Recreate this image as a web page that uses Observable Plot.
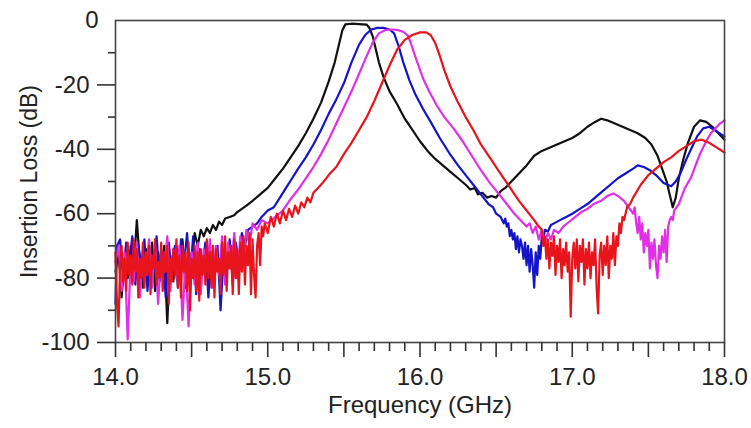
<!DOCTYPE html>
<html><head><meta charset="utf-8">
<script src="https://cdn.jsdelivr.net/npm/d3@7"></script>
<script src="https://cdn.jsdelivr.net/npm/@observablehq/plot@0.6"></script>
<style>html,body{margin:0;padding:0;background:#fff;}#chart{width:751px;height:428px;}</style>
</head><body><div id="chart"></div>
<script>
// Tick values and labels
const xLabelTicks = [14, 15, 16, 17, 18];
const xMajorTicks = [14, 14.5, 15, 15.5, 16, 16.5, 17, 17.5, 18];
const xMinorTicks = [14.1,14.2,14.3,14.4,14.6,14.7,14.8,14.9,15.1,15.2,15.3,15.4,15.6,15.7,15.8,15.9,16.1,16.2,16.3,16.4,16.6,16.7,16.8,16.9,17.1,17.2,17.3,17.4,17.6,17.7,17.8,17.9];
const yMajorTicks = [-20, -40, -60, -80, -100];
const yTopTick = [0];
const yMinorTicks = [-10, -30, -50, -70, -90];
const xTitle = "Frequency (GHz)";
const yTitle = "Insertion Loss (dB)";

// Series: [frequency GHz, insertion loss dB]
const black = [[14.00,-78],[14.02,-72],[14.04,-86],[14.06,-74],[14.08,-80],[14.10,-70],[14.12,-77],[14.14,-62],[14.16,-75],[14.18,-83],[14.20,-71],[14.22,-79],[14.24,-69],[14.26,-84],[14.28,-72],[14.30,-78],[14.32,-70],[14.34,-94],[14.36,-73],[14.38,-81],[14.40,-70],[14.42,-77],[14.44,-68],[14.46,-83],[14.48,-71],[14.50,-76],[14.52,-66],[14.54,-70],[14.56,-65],[14.58,-67],[14.60,-64.5],[14.62,-66],[14.64,-63.5],[14.66,-65],[14.68,-62.5],[14.70,-63.5],[14.72,-61.5],[14.75,-61],[14.78,-60.5],[14.80,-59.5],[14.83,-58.5],[14.86,-57.5],[14.90,-56],[14.95,-54],[15.00,-52],[15.05,-49],[15.10,-46],[15.15,-42.5],[15.20,-39],[15.25,-35],[15.30,-30.5],[15.35,-25.5],[15.40,-19],[15.44,-13],[15.47,-7],[15.49,-3],[15.51,-1.2],[15.55,-1.0],[15.60,-1.1],[15.65,-1.3],[15.67,-2.5],[15.69,-5],[15.71,-9],[15.73,-13],[15.76,-17.5],[15.80,-22],[15.85,-26],[15.90,-30.5],[15.95,-34],[16.00,-37.5],[16.05,-40.5],[16.10,-43],[16.15,-45],[16.20,-47],[16.25,-49],[16.30,-51],[16.33,-52.5],[16.36,-52],[16.38,-54],[16.41,-53.5],[16.44,-55],[16.47,-54.5],[16.50,-55],[16.53,-53],[16.56,-52],[16.60,-50],[16.65,-47.5],[16.70,-45],[16.75,-42],[16.80,-40.5],[16.85,-39.5],[16.90,-38.5],[16.95,-37.5],[17.00,-36.5],[17.05,-35],[17.10,-33],[17.15,-31.5],[17.19,-30.5],[17.23,-31],[17.28,-32],[17.33,-33],[17.38,-34],[17.43,-35],[17.48,-36.5],[17.52,-38.5],[17.56,-42],[17.59,-46],[17.62,-50],[17.64,-54],[17.66,-58],[17.68,-55],[17.70,-49],[17.73,-43],[17.76,-38],[17.80,-33],[17.84,-31],[17.88,-31.5],[17.92,-33],[17.96,-35],[18.00,-37]];

const blue = [[14.00,-88],[14.01,-70],[14.03,-68],[14.05,-80],[14.07,-69],[14.09,-77],[14.11,-67],[14.13,-82],[14.15,-70],[14.17,-76],[14.19,-68],[14.21,-84],[14.23,-71],[14.25,-78],[14.27,-67],[14.29,-81],[14.31,-72],[14.33,-86],[14.35,-69],[14.37,-79],[14.39,-70],[14.41,-83],[14.43,-68],[14.45,-76],[14.47,-66],[14.49,-80],[14.51,-67],[14.53,-85],[14.55,-71],[14.57,-78],[14.59,-69],[14.61,-86],[14.63,-72],[14.65,-80],[14.67,-70],[14.69,-90],[14.71,-73],[14.73,-79],[14.75,-68],[14.77,-82],[14.79,-69],[14.81,-75],[14.83,-66],[14.85,-70],[14.87,-65],[14.90,-64],[14.93,-63],[14.96,-61],[15.00,-59],[15.04,-58],[15.08,-55],[15.12,-52],[15.16,-49],[15.20,-46],[15.25,-42.5],[15.30,-38.5],[15.35,-34],[15.40,-29],[15.45,-24.5],[15.50,-19.5],[15.55,-13],[15.60,-7.5],[15.64,-4.5],[15.68,-2.8],[15.72,-2.3],[15.76,-2.3],[15.80,-2.8],[15.83,-4],[15.86,-8],[15.89,-13],[15.93,-18.5],[15.97,-23],[16.02,-27.5],[16.07,-31.5],[16.13,-36.5],[16.19,-41],[16.25,-45],[16.30,-48],[16.35,-51],[16.40,-54],[16.45,-57],[16.48,-58],[16.50,-60],[16.53,-61],[16.55,-63],[16.56,-61.5],[16.57,-64],[16.58,-63],[16.59,-67],[16.60,-65],[16.61,-68],[16.62,-66],[16.63,-71],[16.64,-67],[16.65,-72],[16.66,-68],[16.67,-70],[16.68,-74],[16.69,-69],[16.70,-76],[16.71,-70],[16.72,-78],[16.73,-71],[16.74,-76],[16.75,-83],[16.76,-72],[16.77,-79],[16.78,-70],[16.79,-74],[16.80,-67],[16.81,-68],[16.82,-65],[16.84,-65.5],[16.86,-63.5],[16.88,-63],[16.92,-62],[16.96,-61],[17.00,-60],[17.05,-58.5],[17.10,-57],[17.15,-55],[17.20,-53],[17.25,-51],[17.30,-49],[17.35,-47.5],[17.40,-46],[17.43,-45],[17.47,-45.5],[17.51,-46.5],[17.55,-48],[17.60,-50.5],[17.65,-51.5],[17.68,-50],[17.71,-47.5],[17.75,-43],[17.78,-40],[17.82,-36],[17.86,-33.5],[17.90,-33],[17.95,-34.5],[18.00,-36]];

const magenta = [[14.00,-75],[14.02,-70],[14.04,-84],[14.06,-72],[14.08,-99],[14.10,-74],[14.12,-81],[14.14,-69],[14.16,-86],[14.18,-73],[14.20,-79],[14.22,-68],[14.24,-83],[14.26,-70],[14.28,-88],[14.30,-72],[14.32,-78],[14.34,-67],[14.36,-84],[14.38,-71],[14.40,-80],[14.42,-70],[14.44,-93],[14.46,-74],[14.48,-95],[14.50,-72],[14.52,-82],[14.54,-69],[14.56,-85],[14.58,-71],[14.60,-78],[14.62,-68],[14.64,-83],[14.66,-70],[14.68,-79],[14.70,-67],[14.72,-82],[14.74,-69],[14.76,-77],[14.78,-66],[14.80,-80],[14.82,-67],[14.84,-74],[14.86,-65],[14.88,-70],[14.90,-63],[14.93,-65],[14.96,-62],[15.00,-63],[15.05,-61],[15.10,-59],[15.15,-55.5],[15.20,-52.5],[15.25,-49],[15.30,-45.5],[15.35,-41.5],[15.40,-37],[15.45,-32],[15.50,-27],[15.55,-22],[15.60,-16.5],[15.65,-11],[15.69,-6.8],[15.73,-4],[15.77,-3],[15.81,-2.8],[15.85,-2.9],[15.89,-3.5],[15.92,-4.7],[15.94,-7],[15.96,-10],[15.99,-14],[16.02,-18],[16.06,-22],[16.11,-26.4],[16.16,-30],[16.22,-33.5],[16.28,-37.5],[16.34,-42],[16.40,-46.5],[16.46,-50.5],[16.52,-54],[16.57,-57],[16.62,-60],[16.67,-62.5],[16.70,-64],[16.72,-63],[16.74,-66],[16.76,-64],[16.78,-68],[16.80,-65],[16.82,-69],[16.84,-66],[16.86,-68],[16.88,-65],[16.91,-66],[16.94,-64],[16.98,-62.5],[17.02,-61],[17.06,-59.5],[17.10,-58.5],[17.14,-57],[17.19,-56],[17.23,-54.5],[17.27,-53.7],[17.30,-54.5],[17.34,-56],[17.37,-58],[17.40,-60],[17.41,-58],[17.42,-63],[17.43,-66],[17.44,-61],[17.45,-68],[17.46,-63],[17.47,-72],[17.48,-66],[17.49,-70],[17.50,-65],[17.51,-77],[17.52,-69],[17.53,-74],[17.54,-68],[17.55,-76],[17.56,-80],[17.57,-70],[17.58,-74],[17.59,-67],[17.60,-72],[17.61,-65],[17.62,-75],[17.63,-64],[17.64,-62],[17.65,-61],[17.66,-62],[17.67,-59],[17.70,-57],[17.74,-52],[17.78,-48.8],[17.81,-45],[17.84,-41.3],[17.88,-37.5],[17.91,-35],[17.95,-33],[17.97,-32],[18.00,-31]];

const red = [[14.00,-72],[14.01,-88],[14.02,-95],[14.03,-76],[14.04,-70],[14.05,-81],[14.06,-74],[14.07,-84],[14.08,-69],[14.09,-79],[14.10,-73],[14.11,-82],[14.12,-68],[14.13,-78],[14.14,-71],[14.15,-86],[14.16,-74],[14.17,-80],[14.18,-69],[14.19,-83],[14.20,-72],[14.21,-79],[14.22,-70],[14.23,-85],[14.24,-73],[14.25,-77],[14.26,-68],[14.27,-82],[14.28,-75],[14.29,-80],[14.30,-69],[14.31,-84],[14.32,-72],[14.33,-78],[14.34,-70],[14.35,-88],[14.36,-74],[14.37,-81],[14.38,-71],[14.39,-79],[14.40,-68],[14.41,-83],[14.42,-73],[14.43,-86],[14.44,-70],[14.45,-78],[14.46,-72],[14.47,-84],[14.48,-69],[14.49,-90],[14.50,-74],[14.51,-80],[14.52,-70],[14.53,-84],[14.54,-72],[14.55,-87],[14.56,-71],[14.57,-79],[14.58,-73],[14.59,-82],[14.60,-68],[14.61,-80],[14.62,-72],[14.63,-83],[14.64,-70],[14.65,-86],[14.66,-71],[14.67,-78],[14.68,-74],[14.69,-85],[14.70,-69],[14.71,-79],[14.72,-67],[14.73,-84],[14.74,-72],[14.75,-77],[14.76,-70],[14.77,-85],[14.78,-68],[14.79,-80],[14.80,-71],[14.81,-85],[14.82,-69],[14.83,-78],[14.84,-67],[14.85,-82],[14.86,-70],[14.87,-76],[14.88,-66],[14.89,-85],[14.90,-68],[14.91,-79],[14.92,-86],[14.93,-70],[14.94,-66],[14.95,-76],[14.96,-64],[14.97,-67],[14.98,-63],[15.00,-66],[15.02,-61],[15.04,-64],[15.06,-60],[15.08,-63],[15.10,-59],[15.12,-62],[15.14,-58.5],[15.16,-61],[15.18,-57.5],[15.20,-60],[15.22,-56.5],[15.24,-58],[15.26,-55],[15.28,-56.5],[15.30,-53.5],[15.33,-52],[15.36,-50.5],[15.40,-48],[15.45,-45.5],[15.50,-41.5],[15.55,-38],[15.60,-34],[15.65,-30],[15.70,-25],[15.75,-19.5],[15.80,-14],[15.85,-9],[15.90,-6],[15.95,-4.5],[16.00,-3.7],[16.04,-3.7],[16.07,-4.5],[16.10,-7],[16.13,-11],[16.16,-15.5],[16.20,-20.5],[16.25,-25.5],[16.30,-30],[16.35,-34],[16.40,-38.5],[16.45,-42],[16.50,-45.5],[16.55,-49],[16.60,-52.5],[16.65,-56],[16.70,-59],[16.75,-62],[16.78,-64],[16.80,-65],[16.81,-70],[16.82,-67],[16.83,-74],[16.84,-68],[16.85,-77],[16.86,-69],[16.87,-73],[16.88,-67],[16.89,-79],[16.90,-70],[16.91,-75],[16.92,-68],[16.93,-80],[16.94,-71],[16.95,-76],[16.96,-69],[16.97,-78],[16.98,-72],[16.99,-92],[17.00,-74],[17.01,-69],[17.02,-77],[17.03,-68],[17.04,-81],[17.05,-70],[17.06,-75],[17.07,-68],[17.08,-82],[17.09,-71],[17.10,-77],[17.11,-69],[17.12,-80],[17.13,-72],[17.14,-76],[17.15,-68],[17.16,-83],[17.17,-91],[17.18,-73],[17.19,-69],[17.20,-79],[17.21,-70],[17.22,-76],[17.23,-67],[17.24,-80],[17.25,-70],[17.26,-74],[17.27,-66],[17.28,-76],[17.29,-67],[17.30,-70],[17.31,-63],[17.32,-66],[17.33,-61],[17.34,-62],[17.36,-58],[17.38,-57],[17.40,-55],[17.45,-51],[17.50,-48],[17.55,-46],[17.60,-44],[17.65,-42.5],[17.70,-40.5],[17.75,-39],[17.80,-37.5],[17.85,-37],[17.90,-38],[17.95,-39.5],[18.00,-41]];

const seriesList = [
  {name: "black", points: black, color: "#111111"},
  {name: "blue", points: blue, color: "#1414c8"},
  {name: "magenta", points: magenta, color: "#e22ee6"},
  {name: "red", points: red, color: "#e8141c"}
];

const font = "'Liberation Sans', Arial, Helvetica, sans-serif";
const axisColor = "#333";

const lineMarks = seriesList.map(s =>
  Plot.line(s.points.map(([f, db]) => ({f, db})), {x: "f", y: "db", stroke: s.color, strokeWidth: 2.2})
);

const chart = Plot.plot({
  width: 751,
  height: 428,
  marginLeft: 115,
  marginRight: 27,
  marginTop: 20,
  marginBottom: 86,
  x: {domain: [14, 18]},
  y: {domain: [-100, 0]},
  style: {fontFamily: font, background: "#fff", color: "#222", overflow: "visible"},
  marks: [
    ...lineMarks,
    Plot.frame({stroke: "#444", strokeWidth: 1.6}),
    Plot.axisY({ticks: yMinorTicks, tickSize: 7, tickFormat: () => "", label: null, stroke: axisColor, strokeWidth: 1.6}),
    Plot.axisY({ticks: yMajorTicks, tickSize: 18, tickPadding: 8, tickFormat: d => String(d), fontSize: 24, label: null, stroke: axisColor, strokeWidth: 1.6}),
    Plot.axisY({ticks: yTopTick, tickSize: 0, tickPadding: 17, tickFormat: d => String(d), fontSize: 24, label: null}),
    Plot.axisX({ticks: xMinorTicks, tickSize: 9, tickFormat: () => "", label: null, stroke: axisColor, strokeWidth: 1.6}),
    Plot.axisX({ticks: xMajorTicks, tickSize: 15, tickFormat: () => "", label: null, stroke: axisColor, strokeWidth: 1.6}),
    Plot.axisX({ticks: xLabelTicks, tickSize: 0, tickPadding: 25, tickFormat: d => d.toFixed(1), fontSize: 24, label: null}),
    Plot.text([xTitle], {text: d => d, frameAnchor: "bottom", dy: 53, lineAnchor: "top", textAnchor: "middle", fontSize: 24, fill: "#222"}),
    Plot.text([yTitle], {text: d => d, frameAnchor: "left", dx: -95, rotate: -90, lineAnchor: "top", textAnchor: "middle", fontSize: 23, fill: "#222"})
  ]
});
document.getElementById("chart").appendChild(chart);
</script>
</body></html>
